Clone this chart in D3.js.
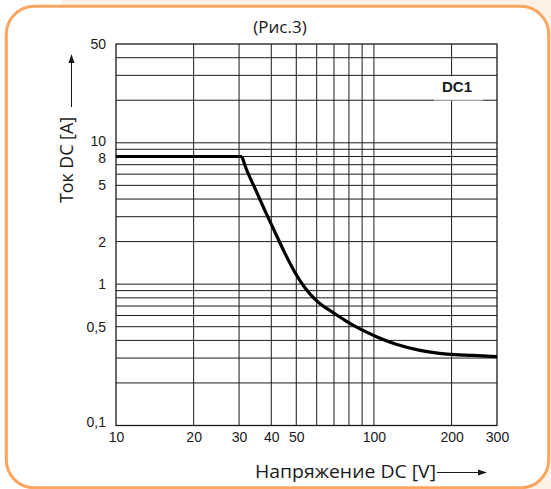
<!DOCTYPE html>
<html>
<head>
<meta charset="utf-8">
<script src="https://cdn.jsdelivr.net/npm/d3@7"></script>
<style>
  html, body { margin: 0; padding: 0; background: #ffffff; }
  svg { display: block; }
</style>
</head>
<body>
<script>
// ---- data ----
const voltageFlat = [10, 30.8];
const currentFlat = [8, 8];
const voltageDrop = [30.8, 31.9, 34.6, 37.8, 41.4, 45.2, 49.4, 54.1, 59.6, 63.5, 68.5, 77.2, 88.3, 102.8, 122.9, 150.9, 192, 242, 300];
const currentDrop = [8, 6.63, 4.75, 3.31, 2.32, 1.65, 1.21, 0.94, 0.77, 0.7, 0.64, 0.555, 0.482, 0.423, 0.374, 0.34, 0.32, 0.313, 0.307];
const xGrid = [20, 30, 40, 50, 60, 70, 80, 90, 100, 200];
const yGrid = [0.2, 0.3, 0.4, 0.5, 0.6, 0.7, 0.8, 0.9, 1, 2, 3, 4, 5, 6, 7, 8, 9, 10, 20, 30, 40];
const xTicks = [10, 20, 30, 40, 50, 100, 200, 300];
const yTicks = [50, 10, 8, 5, 2, 1, 0.5, 0.1];
const yTickLabels = ["50", "10", "8", "5", "2", "1", "0,5", "0,1"];
const title = "(Рис.3)";
const xTitle = "Напряжение DC [V]";
const yTitle = "Ток DC [A]";
const seriesLabel = "DC1";

const W = 551, H = 489;
const svg = d3.select("body").append("svg").attr("width", W).attr("height", H);

// background & frame
svg.append("rect").attr("x", 62).attr("y", 0).attr("width", W - 62).attr("height", H).attr("fill", "#fef1e6");
svg.append("rect").attr("x", 6.3).attr("y", 6.3).attr("width", 542.4).attr("height", 481.5)
  .attr("rx", 28).attr("ry", 28).attr("fill", "#ffffff").attr("stroke", "#fba560").attr("stroke-width", 3);

const x = d3.scaleLog().domain([10, 300]).range([116, 497]);
const y = d3.scaleLog().domain([0.1, 50]).range([425.5, 44]);

const g = svg.append("g");
const gridColor = "#1a1a1a";

// grid
g.selectAll("line.vg").data(xGrid).join("line")
  .attr("x1", d => x(d)).attr("x2", d => x(d)).attr("y1", y(50)).attr("y2", y(0.1))
  .attr("stroke", gridColor).attr("stroke-width", 1);
g.selectAll("line.hg").data(yGrid).join("line")
  .attr("x1", x(10)).attr("x2", x(300)).attr("y1", d => y(d)).attr("y2", d => y(d))
  .attr("stroke", gridColor).attr("stroke-width", 1);
g.append("rect").attr("x", x(10)).attr("y", y(50)).attr("width", x(300) - x(10)).attr("height", y(0.1) - y(50))
  .attr("fill", "none").attr("stroke", gridColor).attr("stroke-width", 1.3);

// label box
g.append("rect").attr("x", 434).attr("y", y(30) + 1).attr("width", 49).attr("height", y(20) - y(30) - 1.5).attr("fill", "#ffffff");
g.append("line").attr("x1", 434).attr("x2", 483).attr("y1", y(20)).attr("y2", y(20)).attr("stroke", "#bdbdbd").attr("stroke-width", 1);
g.append("text").attr("x", 457).attr("y", 92).attr("text-anchor", "middle")
  .attr("font-family", "Liberation Sans, Arial, sans-serif").attr("font-weight", "bold").attr("font-size", 15)
  .attr("fill", "#1a1a1a").text(seriesLabel);

// curve
const flat = voltageFlat.map((v, i) => [v, currentFlat[i]]);
const drop = voltageDrop.map((v, i) => [v, currentDrop[i]]);
const lineLin = d3.line().x(d => x(d[0])).y(d => y(d[1]));
const lineCurve = d3.line().x(d => x(d[0])).y(d => y(d[1])).curve(d3.curveMonotoneX);
g.append("path").attr("d", lineLin(flat)).attr("fill", "none").attr("stroke", "#000").attr("stroke-width", 3.2);
g.append("path").attr("d", lineCurve(drop)).attr("fill", "none").attr("stroke", "#000").attr("stroke-width", 3.2).attr("stroke-linejoin", "round");

// axes (labels only)
const xAxis = d3.axisBottom(x).tickValues(xTicks).tickFormat(d3.format("d")).tickSize(0).tickPadding(0);
const xa = svg.append("g").attr("transform", `translate(0,${y(0.1) + 16.5})`).call(xAxis);
xa.select(".domain").remove();
xa.selectAll("text").attr("font-family", "Liberation Sans, Arial, sans-serif").attr("font-size", 14).attr("fill", "#1a1a1a").attr("dy", 0);

const yAxis = d3.axisLeft(y).tickValues(yTicks).tickFormat((d, i) => yTickLabels[i]).tickSize(0).tickPadding(10);
const ya = svg.append("g").attr("transform", `translate(${x(10)},0)`).call(yAxis);
ya.select(".domain").remove();
ya.selectAll("text").attr("font-family", "Liberation Sans, Arial, sans-serif").attr("font-size", 14).attr("fill", "#1a1a1a")
  .attr("dy", (d) => d === 0.1 ? "0.1em" : d === 10 ? "0.22em" : d === 8 ? "0.4em" : "0.32em");

// titles
svg.append("text").attr("x", 280).attr("y", 33).attr("text-anchor", "middle")
  .attr("font-family", "Open Sans, sans-serif").attr("font-size", 17).attr("fill", "#1a1a1a").text(title);

svg.append("text").attr("x", 255).attr("y", 478)
  .attr("font-family", "Open Sans, sans-serif").attr("font-size", 19).attr("fill", "#1a1a1a")
  .attr("textLength", 181).attr("lengthAdjust", "spacingAndGlyphs").text(xTitle);
svg.append("line").attr("x1", 437).attr("x2", 479).attr("y1", 472.5).attr("y2", 472.5).attr("stroke", "#1a1a1a").attr("stroke-width", 1);
svg.append("path").attr("d", "M478,469.5 L487,472.5 L478,475.5 Z").attr("fill", "#1a1a1a");

svg.append("text").attr("transform", "translate(73,203) rotate(-90)")
  .attr("font-family", "Open Sans, sans-serif").attr("font-size", 18).attr("fill", "#1a1a1a")
  .attr("textLength", 86).attr("lengthAdjust", "spacingAndGlyphs").text(yTitle);
svg.append("line").attr("x1", 71.5).attr("x2", 71.5).attr("y1", 107).attr("y2", 62).attr("stroke", "#1a1a1a").attr("stroke-width", 1);
svg.append("path").attr("d", "M68.5,63 L71.5,54 L74.5,63 Z").attr("fill", "#1a1a1a");
</script>
</body>
</html>
